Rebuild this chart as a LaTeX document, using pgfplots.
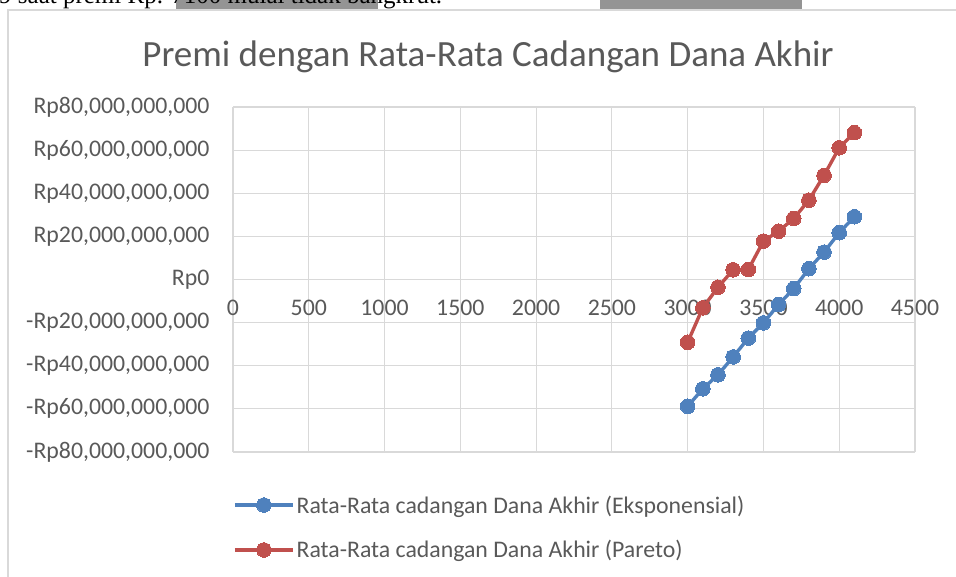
\documentclass[border=0pt]{standalone}
\usepackage{pgfplots}
\pgfplotsset{compat=1.18}
\usepackage{fontspec}
\setmainfont{Carlito}
\newfontfamily\timesfont{Liberation Serif}
\definecolor{exc}{HTML}{4F81BD}
\definecolor{par}{HTML}{C0504D}
\definecolor{txt}{HTML}{595959}
\definecolor{grd}{HTML}{D9D9D9}
\begin{document}
\begin{tikzpicture}[x=1pt,y=1pt]
\useasboundingbox (0,0) rectangle (956,577);
\fill[black!42] (176,568) rectangle (378,580);
\fill[black!42] (600,568) rectangle (802,580);
\node[anchor=base west, inner sep=0, font=\timesfont\fontsize{25}{25}\selectfont] at (-1,573) {9 saat premi Rp. 7100 mulai tidak bangkrut.};
\draw[grd, line width=1.2] (8,-5) -- (8,567) -- (960,567);
\node[font=\fontsize{37}{37}\selectfont, text=txt] at (488,520) {Premi dengan Rata-Rata Cadangan Dana Akhir};
\begin{axis}[
  scale only axis, width=682pt, height=345pt,
  at={(233pt,125pt)}, anchor=south west,
  xmin=0, xmax=4500, ymin=-80, ymax=80,
  axis line style={draw=none},
  major tick length=0pt,
  grid=major, grid style={grd, line width=1.2},
  xtick={0,500,1000,1500,2000,2500,3000,3500,4000,4500},
  xticklabels={0,500,1000,1500,2000,2500,3000,3500,4000,4500},
  ytick={-80,-60,-40,-20,0,20,40,60,80},
  yticklabels={{-Rp80,000,000,000},{-Rp60,000,000,000},{-Rp40,000,000,000},{-Rp20,000,000,000},{Rp0},{Rp20,000,000,000},{Rp40,000,000,000},{Rp60,000,000,000},{Rp80,000,000,000}},
  ticklabel style={font=\fontsize{23.8}{23.8}\selectfont, text=txt},
  xticklabel style={yshift=155pt},
  yticklabel style={xshift=-20pt},
  legend style={at={(0,-0.12)}, anchor=north west, draw=none, fill=none,
    font=\fontsize{23.8}{23.8}\selectfont, text=txt, inner sep=0pt,
    row sep=22pt, nodes={inner sep=2pt}},
  legend cell align=left,
  legend image code/.code={\draw[mark repeat=2,mark phase=2,#1] plot coordinates {(0pt,0pt) (29pt,0pt) (58pt,0pt)};},
]
\addplot[exc, line width=3.4pt, mark=*, mark size=7.3pt, mark options={fill=exc, draw=exc, line width=0pt}]
coordinates {(3000,-58.8) (3100,-50.7) (3200,-44.2) (3300,-35.9) (3400,-27.2) (3500,-20.1) (3600,-11.6) (3700,-4.2) (3800,5.0) (3900,12.7) (4000,21.7) (4100,29.1)};
\addlegendentry{Rata-Rata cadangan Dana Akhir (Eksponensial)}
\addplot[par, line width=3.4pt, mark=*, mark size=7.3pt, mark options={fill=par, draw=par, line width=0pt}]
coordinates {(3000,-29.1) (3100,-13.1) (3200,-3.6) (3300,4.5) (3400,4.6) (3500,17.8) (3600,22.4) (3700,28.3) (3800,36.8) (3900,48.3) (4000,61.1) (4100,68.1)};
\addlegendentry{Rata-Rata cadangan Dana Akhir (Pareto)}
\end{axis}
\end{tikzpicture}
\end{document}
